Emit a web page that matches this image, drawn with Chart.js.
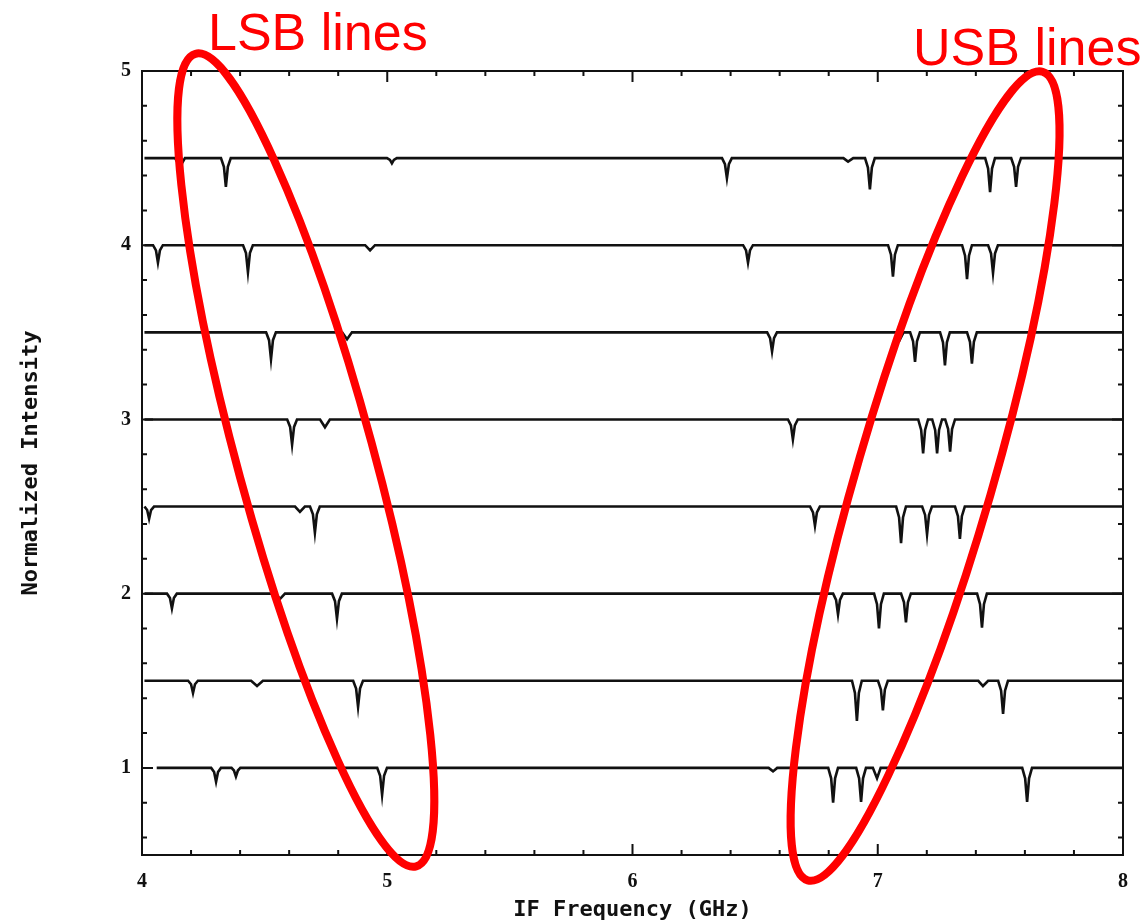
<!DOCTYPE html>
<html>
<head>
<meta charset="utf-8">
<script src="https://cdn.jsdelivr.net/npm/chart.js@4.4.1/dist/chart.umd.min.js"></script>
<style>
  html, body { margin: 0; padding: 0; background: #fff; }
  #wrap { width: 1144px; height: 923px; }
</style>
</head>
<body>
<div id="wrap"><canvas id="spectraChart" width="1144" height="923"></canvas></div>
<script>

// axis tick labels
const xLabels = [4, 5, 6, 7, 8];
const yLabels = [1, 2, 3, 4, 5];

// spectra, top to bottom: [IF frequency (GHz), normalized intensity]
const spectrum45 = [
    [4.01, 4.5], [4.135, 4.5], [4.147, 4.47], [4.155, 4.40], [4.163, 4.47], [4.175, 4.5],
    [4.322, 4.5], [4.334, 4.45], [4.342, 4.335], [4.350, 4.45], [4.362, 4.5],
    [4.999, 4.5], [5.011, 4.49], [5.019, 4.47], [5.027, 4.49], [5.039, 4.5],
    [6.365, 4.5], [6.377, 4.465], [6.385, 4.385], [6.393, 4.465], [6.405, 4.5],
    [6.86, 4.5], [6.879, 4.48], [6.90, 4.5],
    [6.948, 4.5], [6.960, 4.446], [6.968, 4.32], [6.976, 4.446], [6.988, 4.5],
    [7.438, 4.5], [7.450, 4.44], [7.458, 4.305], [7.466, 4.44], [7.478, 4.5],
    [7.544, 4.5], [7.556, 4.45], [7.564, 4.335], [7.572, 4.45], [7.584, 4.5],
    [8.0, 4.5]
];
const spectrum40 = [
    [4.01, 4.0], [4.045, 4.0], [4.057, 3.97], [4.065, 3.90], [4.073, 3.97], [4.085, 4.0],
    [4.412, 4.0], [4.424, 3.955], [4.432, 3.845], [4.440, 3.955], [4.452, 4.0],
    [4.91, 4.0], [4.93, 3.97], [4.95, 4.0],
    [6.451, 4.0], [6.463, 3.97], [6.471, 3.90], [6.479, 3.97], [6.491, 4.0],
    [7.042, 4.0], [7.054, 3.946], [7.062, 3.82], [7.070, 3.946], [7.082, 4.0],
    [7.344, 4.0], [7.356, 3.94], [7.364, 3.805], [7.372, 3.94], [7.384, 4.0],
    [7.450, 4.0], [7.462, 3.952], [7.470, 3.84], [7.478, 3.952], [7.490, 4.0],
    [8.0, 4.0]
];
const spectrum35 = [
    [4.01, 3.5],
    [4.506, 3.5], [4.518, 3.455], [4.526, 3.345], [4.534, 3.455], [4.546, 3.5],
    [4.816, 3.5], [4.836, 3.46], [4.856, 3.5],
    [6.549, 3.5], [6.561, 3.467], [6.569, 3.39], [6.577, 3.467], [6.589, 3.5],
    [7.075, 3.5], [7.091, 3.46], [7.105, 3.5],
    [7.132, 3.5], [7.144, 3.449], [7.152, 3.33], [7.160, 3.449], [7.172, 3.5],
    [7.254, 3.5], [7.266, 3.443], [7.274, 3.31], [7.282, 3.443], [7.294, 3.5],
    [7.364, 3.5], [7.376, 3.446], [7.384, 3.32], [7.392, 3.446], [7.404, 3.5],
    [8.0, 3.5]
];
const spectrum30 = [
    [4.01, 3.0],
    [4.592, 3.0], [4.604, 2.957], [4.612, 2.855], [4.620, 2.957], [4.632, 3.0],
    [4.726, 3.0], [4.746, 2.955], [4.766, 3.0],
    [6.634, 3.0], [6.646, 2.966], [6.654, 2.885], [6.662, 2.966], [6.674, 3.0],
    [7.165, 3.0], [7.177, 2.94], [7.185, 2.805], [7.193, 2.94], [7.205, 3.0],
    [7.222, 3.0], [7.234, 2.94], [7.242, 2.805], [7.250, 2.94], [7.262, 3.0],
    [7.275, 3.0], [7.287, 2.945], [7.295, 2.815], [7.303, 2.945], [7.315, 3.0],
    [8.0, 3.0]
];
const spectrum25 = [
    [4.01, 2.5], [4.021, 2.48], [4.029, 2.43], [4.037, 2.48], [4.049, 2.5],
    [4.624, 2.5], [4.644, 2.47], [4.664, 2.5],
    [4.685, 2.5], [4.697, 2.455], [4.705, 2.35], [4.713, 2.455], [4.725, 2.5],
    [6.724, 2.5], [6.736, 2.467], [6.744, 2.39], [6.752, 2.467], [6.764, 2.5],
    [7.075, 2.5], [7.087, 2.437], [7.095, 2.29], [7.103, 2.437], [7.115, 2.5],
    [7.181, 2.5], [7.193, 2.452], [7.201, 2.34], [7.209, 2.452], [7.221, 2.5],
    [7.315, 2.5], [7.327, 2.445], [7.335, 2.315], [7.343, 2.445], [7.355, 2.5],
    [8.0, 2.5]
];
const spectrum20 = [
    [4.01, 2.0],
    [4.102, 2.0], [4.114, 1.975], [4.122, 1.915], [4.130, 1.975], [4.142, 2.0],
    [4.543, 2.0], [4.563, 1.97], [4.583, 2.0],
    [4.775, 2.0], [4.787, 1.957], [4.795, 1.855], [4.803, 1.957], [4.815, 2.0],
    [6.818, 2.0], [6.830, 1.964], [6.838, 1.88], [6.846, 1.964], [6.858, 2.0],
    [6.985, 2.0], [6.997, 1.94], [7.005, 1.80], [7.013, 1.94], [7.025, 2.0],
    [7.095, 2.0], [7.107, 1.95], [7.115, 1.835], [7.123, 1.95], [7.135, 2.0],
    [7.405, 2.0], [7.417, 1.94], [7.425, 1.805], [7.433, 1.94], [7.445, 2.0],
    [8.0, 2.0]
];
const spectrum15 = [
    [4.01, 1.5],
    [4.188, 1.5], [4.200, 1.48], [4.208, 1.43], [4.216, 1.48], [4.228, 1.5],
    [4.445, 1.5], [4.469, 1.47], [4.493, 1.5],
    [4.861, 1.5], [4.873, 1.455], [4.881, 1.35], [4.889, 1.455], [4.901, 1.5],
    [6.895, 1.5], [6.907, 1.43], [6.915, 1.27], [6.923, 1.43], [6.935, 1.5],
    [7.001, 1.5], [7.013, 1.449], [7.021, 1.33], [7.029, 1.449], [7.041, 1.5],
    [7.41, 1.5], [7.429, 1.47], [7.45, 1.5],
    [7.491, 1.5], [7.503, 1.443], [7.511, 1.31], [7.519, 1.443], [7.531, 1.5],
    [8.0, 1.5]
];
const spectrum10 = [
    [4.06, 1.0],
    [4.282, 1.0], [4.294, 0.976], [4.302, 0.92], [4.310, 0.976], [4.322, 1.0],
    [4.365, 1.0], [4.375, 0.985], [4.383, 0.95], [4.391, 0.985], [4.401, 1.0],
    [4.959, 1.0], [4.971, 0.955], [4.979, 0.845], [4.987, 0.955], [4.999, 1.0],
    [6.555, 1.0], [6.573, 0.98], [6.59, 1.0],
    [6.798, 1.0], [6.810, 0.94], [6.818, 0.80], [6.826, 0.94], [6.838, 1.0],
    [6.912, 1.0], [6.924, 0.94], [6.932, 0.805], [6.940, 0.94], [6.952, 1.0],
    [6.980, 1.0], [6.997, 0.94], [7.012, 1.0],
    [7.589, 1.0], [7.601, 0.94], [7.609, 0.805], [7.617, 0.94], [7.629, 1.0],
    [8.0, 1.0]
];

const allSpectra = [spectrum45, spectrum40, spectrum35, spectrum30,
                    spectrum25, spectrum20, spectrum15, spectrum10];

// red annotations (data coordinates)
const lsbNote = { text: "LSB lines", x: 4.269, y: 5.118, cx: 4.668, cy: 2.767, tilt: -15.2 };
const usbNote = { text: "USB lines", x: 7.144, y: 5.037, cx: 7.193, cy: 2.675, tilt: 16.2 };

function isWhole(v) {
    return Math.abs(v - Math.round(v)) < 1e-6;
}

// boxed frame with inward ticks on all four sides
const frameTicks = {
    id: "frameTicks",
    afterDatasetsDraw(chart) {
        const { ctx, chartArea: a, scales } = chart;
        ctx.save();
        ctx.strokeStyle = "#111";
        ctx.lineWidth = 2;
        ctx.strokeRect(a.left, a.top, a.right - a.left, a.bottom - a.top);

        ctx.beginPath();
        scales.x.ticks.forEach(t => {
            const px = scales.x.getPixelForValue(t.value);
            const len = isWhole(t.value) ? 11 : 5;
            ctx.moveTo(px, a.bottom); ctx.lineTo(px, a.bottom - len);
            ctx.moveTo(px, a.top); ctx.lineTo(px, a.top + len);
        });
        scales.y.ticks.forEach(t => {
            const py = scales.y.getPixelForValue(t.value);
            const len = isWhole(t.value) ? 11 : 5;
            ctx.moveTo(a.left, py); ctx.lineTo(a.left + len, py);
            ctx.moveTo(a.right, py); ctx.lineTo(a.right - len, py);
        });
        ctx.stroke();
        ctx.restore();
    }
};

const redNotes = {
    id: "redNotes",
    afterDraw(chart) {
        const { ctx, scales } = chart;
        ctx.save();
        ctx.strokeStyle = "#ff0000";
        ctx.fillStyle = "#ff0000";
        ctx.lineWidth = 8;
        ctx.font = "52px 'Liberation Sans', Arial, sans-serif";
        ctx.textAlign = "left";
        ctx.textBaseline = "alphabetic";
        [lsbNote, usbNote].forEach(n => {
            const cx = scales.x.getPixelForValue(n.cx);
            const cy = scales.y.getPixelForValue(n.cy);
            ctx.beginPath();
            ctx.ellipse(cx, cy, 68, 421, n.tilt * Math.PI / 180, 0, Math.PI * 2);
            ctx.stroke();
            ctx.fillText(n.text, scales.x.getPixelForValue(n.x), scales.y.getPixelForValue(n.y));
        });
        ctx.restore();
    }
};

const canvas = document.getElementById("spectraChart");

new Chart(canvas, {
    type: "line",
    data: {
        datasets: allSpectra.map(s => ({
            data: s.map(p => ({ x: p[0], y: p[1] })),
            borderColor: "#111",
            borderWidth: 2.6,
            pointRadius: 0,
            tension: 0,
            fill: false
        }))
    },
    options: {
        responsive: false,
        animation: false,
        layout: { padding: { left: 0, top: 71, right: 21, bottom: 0 } },
        plugins: {
            legend: { display: false },
            tooltip: { enabled: false }
        },
        scales: {
            x: {
                type: "linear",
                min: 4,
                max: 8,
                grid: { display: false, drawTicks: false },
                border: { display: false },
                ticks: {
                    stepSize: 0.2,
                    autoSkip: false,
                    maxRotation: 0,
                    padding: 15,
                    color: "#111",
                    font: { family: "'Liberation Serif', serif", size: 20, weight: "bold" },
                    callback: v => xLabels.find(l => Math.abs(l - v) < 1e-6) !== undefined ? String(Math.round(v)) : ""
                },
                title: {
                    display: true,
                    text: "IF Frequency (GHz)",
                    color: "#111",
                    padding: { top: 0, bottom: 0 },
                    font: { family: "'DejaVu Sans Mono', monospace", size: 22, weight: "bold" }
                },
                afterFit: s => { s.height = 68; }
            },
            y: {
                type: "linear",
                min: 0.5,
                max: 5,
                grid: { display: false, drawTicks: false },
                border: { display: false },
                ticks: {
                    stepSize: 0.2,
                    includeBounds: false,
                    autoSkip: false,
                    padding: 11,
                    color: "#111",
                    font: { family: "'Liberation Serif', serif", size: 20, weight: "bold" },
                    callback: v => yLabels.find(l => Math.abs(l - v) < 1e-6) !== undefined ? String(Math.round(v)) : ""
                },
                title: {
                    display: true,
                    text: "Normalized Intensity",
                    color: "#111",
                    padding: { top: 18, bottom: 0 },
                    font: { family: "'DejaVu Sans Mono', monospace", size: 22, weight: "bold" }
                },
                afterFit: s => { s.width = 142; }
            }
        }
    },
    plugins: [frameTicks, redNotes]
});
</script>
</body>
</html>
